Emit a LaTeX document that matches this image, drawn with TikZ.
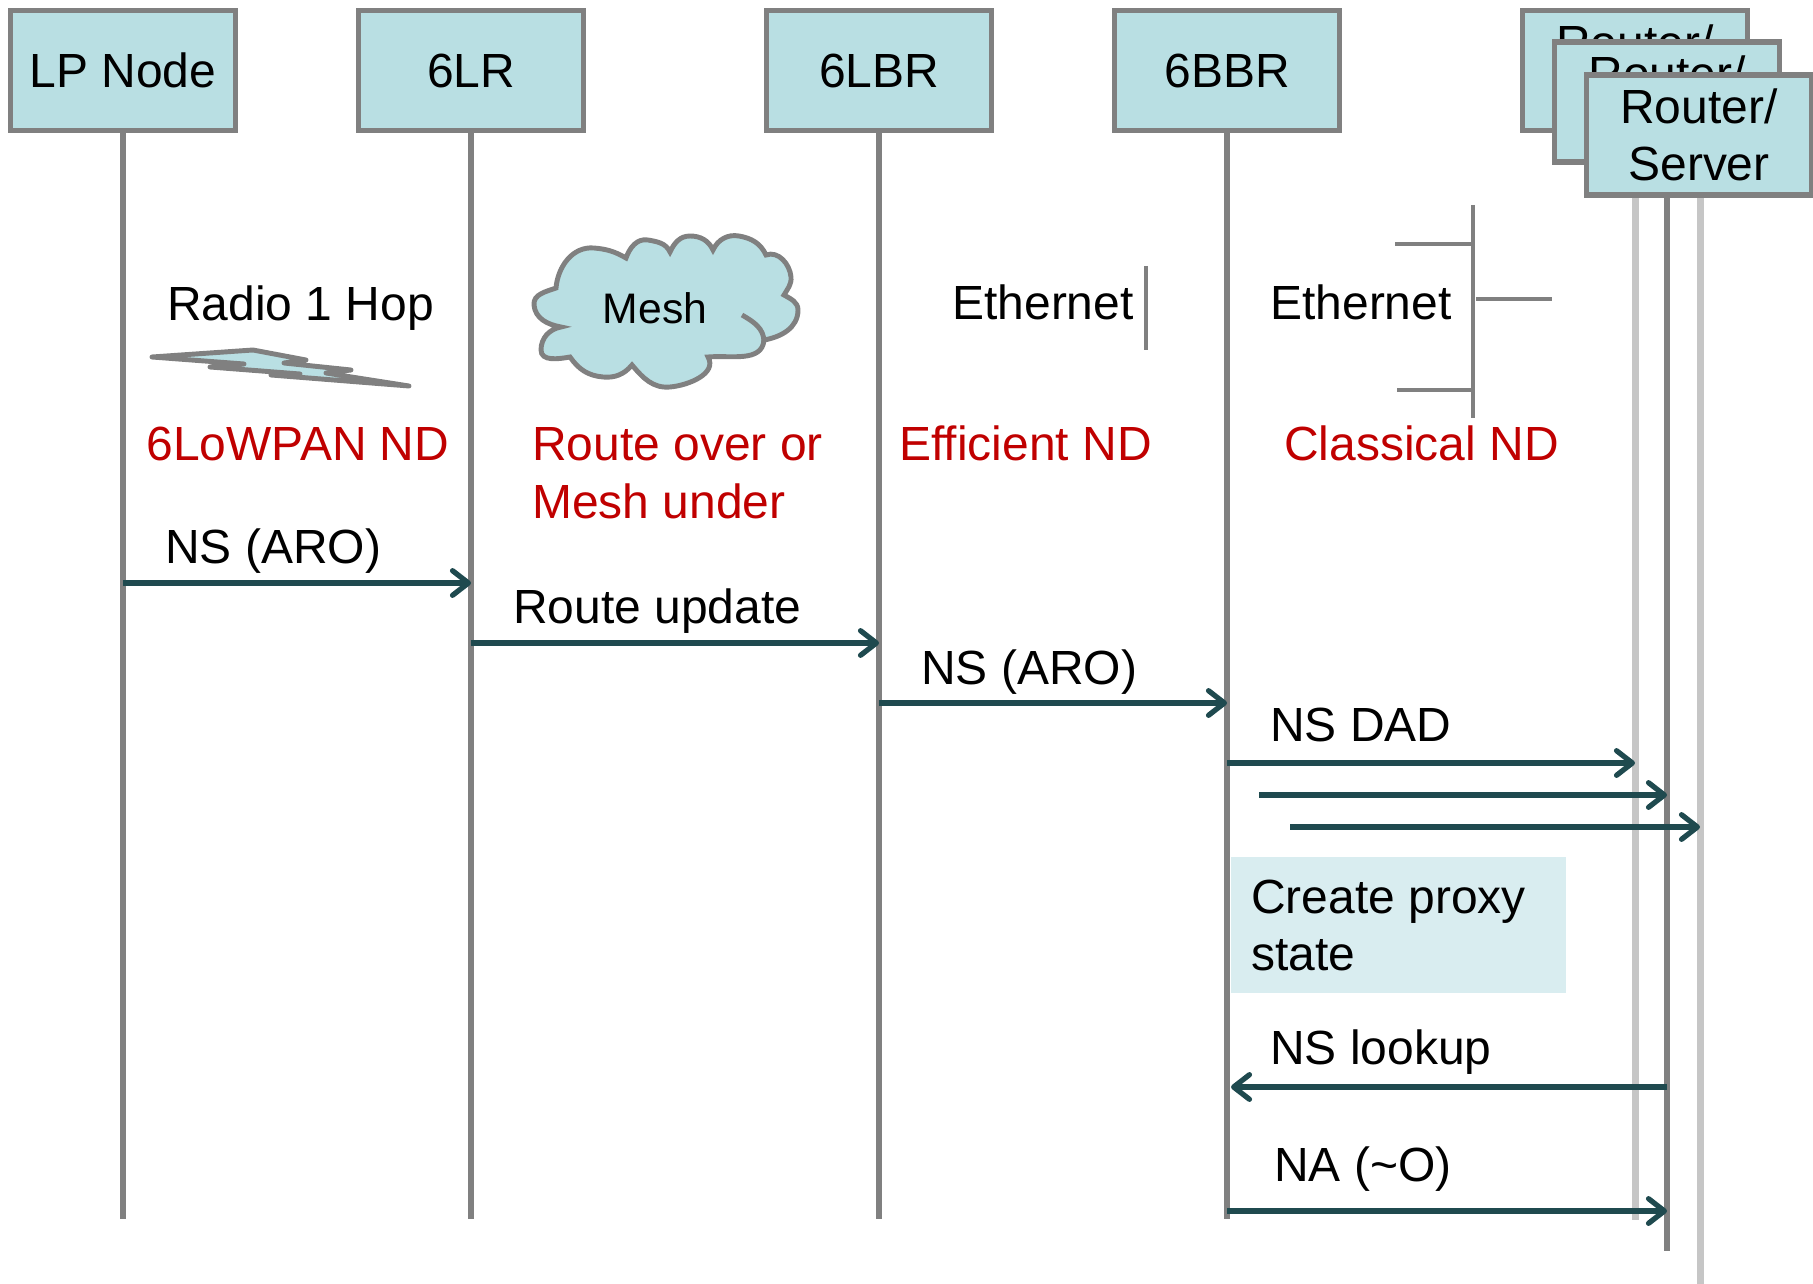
\documentclass[tikz,border=0pt]{standalone}
\usepackage{fontspec}
\setmainfont{Liberation Sans}
\usetikzlibrary{arrows.meta,backgrounds}
\definecolor{boxfill}{HTML}{B9DFE3}
\definecolor{boxline}{HTML}{808080}
\definecolor{msgline}{HTML}{1F4A4F}
\definecolor{ndred}{HTML}{C00000}
\tikzset{
    bigtext/.style={font=\fontsize{27.3}{32.6}\selectfont},
    actor/.style={draw=boxline,fill=boxfill,line width=3pt,minimum width=4.5cm,minimum height=2.4cm,inner sep=0pt,bigtext,align=center},
    life/.style={draw=boxline,line width=3.8pt},
    lifedot/.style={draw=boxline!45,line width=4pt},
    msg/.style={draw=msgline,line width=3pt,-{Straight Barb[length=9pt,width=14pt,line width=3pt,round]}},
    label/.style={bigtext,anchor=base west,inner sep=0pt},
    ndlabel/.style={label,text=ndred},
    netline/.style={draw=boxline,line width=2.4pt}
}
\begin{document}
\begin{tikzpicture}[x=0.02cm,y=-0.02cm]
    \useasboundingbox (0,0) rectangle (1813,1284);

    % draw the boxes
    \foreach \n/\x/\t in {lp/123/LP Node,slr/471/6LR,slbr/879/6LBR,sbbr/1227/6BBR}
        \node[actor] (\n) at (\x,70.5) {\t};
    \node[actor] (rsa) at (1635,70.5) {Router/\\Server};
    \node[actor] (rsb) at (1667,102) {Router/\\Server};
    \node[actor] (rsc) at (1699,135) {Router/\\Server};

    % draw the lifelines
    \coordinate (lpend) at (lp |- 0,1219);
    \coordinate (slrend) at (slr |- 0,1219);
    \coordinate (slbrend) at (slbr |- 0,1219);
    \coordinate (sbbrend) at (sbbr |- 0,1219);
    \coordinate (rsaend) at (rsa |- 0,1220);
    \coordinate (rsbend) at (rsb |- 0,1251);
    \coordinate (rscend) at (1700,1284);
    \coordinate (rsctop) at (1700,196);
    \begin{scope}[on background layer]
        \foreach \n in {lp,slr,slbr,sbbr,rsb}
            \draw[life] (\n.south) -- (\n end);
        \draw[lifedot] (rsa.south) -- (rsaend);
        \draw[lifedot] (rsctop) -- (rscend);
    \end{scope}

    % the lightning
    \filldraw[draw=boxline,fill=boxfill,line width=2.8pt,line join=round]
        (152,357) -- (253,350) -- (306,360) -- (284,363) -- (351,370) -- (326,373) -- (409,386)
        -- (271,375) -- (300,374) -- (210,367) -- (244,364) -- cycle;

    % the cloud
    \filldraw[draw=boxline,fill=boxfill,line width=2.8pt]
        (556,288) to[out=85,in=175] (594,248) to[out=-5,in=150] (626,258)
        to[out=70,in=170] (648,240) to[out=-10,in=115] (670,252)
        to[out=65,in=180] (690,236) to[out=0,in=115] (713,250)
        to[out=65,in=170] (739,236) to[out=-10,in=115] (766,255)
        to[out=20,in=95] (791,277) to[out=-85,in=60] (784,295)
        to[out=-30,in=90] (798,310) to[out=-90,in=10] (764,340)
        to[out=-95,in=5] (708,357) to[out=-60,in=5] (670,387)
        to[out=185,in=-50] (632,365) to[out=-130,in=-5] (603,377)
        to[out=175,in=-55] (570,357) to[out=-170,in=-90] (541,350)
        to[out=90,in=-170] (561,327) to[out=170,in=-85] (534,305)
        to[out=95,in=-160] (556,288) -- cycle;
    \draw[draw=boxline,line width=2.8pt] (742,315) to[out=-30,in=90] (764,342);

    % the ethernet segments
    \draw[netline] (1146,266) -- (1146,350);
    \draw[netline] (1473,205) -- (1473,418);
    \draw[netline] (1395,244) -- (1473,244);
    \draw[netline] (1397,390) -- (1473,390);
    \draw[netline] (1476,299) -- (1552,299);

    % draw the black labels
    \foreach \n/\x/\y/\t in {
        radio/167/320/Radio 1 Hop,
        etha/952/319/Ethernet,
        ethb/1270/319/Ethernet,
        nsa/165/563/NS (ARO),
        route/513/623/Route update,
        nsb/921/684/NS (ARO),
        dad/1270/741/NS DAD,
        look/1270/1064/NS lookup,
        na/1274/1181/NA (\textasciitilde O)}
        \node[label] (\n) at (\x,\y) {\t};
    \node[font=\fontsize{24.3}{28}\selectfont,anchor=base,inner sep=0pt] (mesh) at (655,324) {Mesh};

    % draw the red labels
    \foreach \n/\x/\y/\t in {
        lowpan/146/460/6LoWPAN ND,
        over/532/460/Route over or,
        under/532/518/Mesh under,
        eff/899/460/Efficient ND,
        classic/1284/460/Classical ND}
        \node[ndlabel] (\n) at (\x,\y) {\t};

    % the proxy state box
    \node[fill=boxfill!55,minimum width=6.7cm,minimum height=2.72cm,inner sep=0pt,anchor=north west] (proxy) at (1231,857) {};
    \node[label] (proxya) at (1251,913) {Create proxy};
    \node[label] (proxyb) at (1251,970) {state};

    % draw the messages
    \coordinate (ma) at (lp |- 0,583);
    \coordinate (mb) at (slr |- 0,583);
    \coordinate (mc) at (slr |- 0,643);
    \coordinate (md) at (slbr |- 0,643);
    \coordinate (me) at (slbr |- 0,703);
    \coordinate (mf) at (sbbr |- 0,703);
    \coordinate (mg) at (sbbr |- 0,763);
    \coordinate (mh) at (rsa |- 0,763);
    \coordinate (mi) at (1259,795);
    \coordinate (mj) at (rsb |- 0,795);
    \coordinate (mk) at (1290,827);
    \coordinate (ml) at (1700,827);
    \coordinate (mm) at (rsb |- 0,1087);
    \coordinate (mn) at (1231,1087);
    \coordinate (mo) at (sbbr |- 0,1211);
    \coordinate (mp) at (rsb |- 0,1211);
    \foreach \a/\b in {ma/mb,mc/md,me/mf,mg/mh,mi/mj,mk/ml,mm/mn,mo/mp}
        \draw[msg] (\a) -- (\b);
\end{tikzpicture}
\end{document}
